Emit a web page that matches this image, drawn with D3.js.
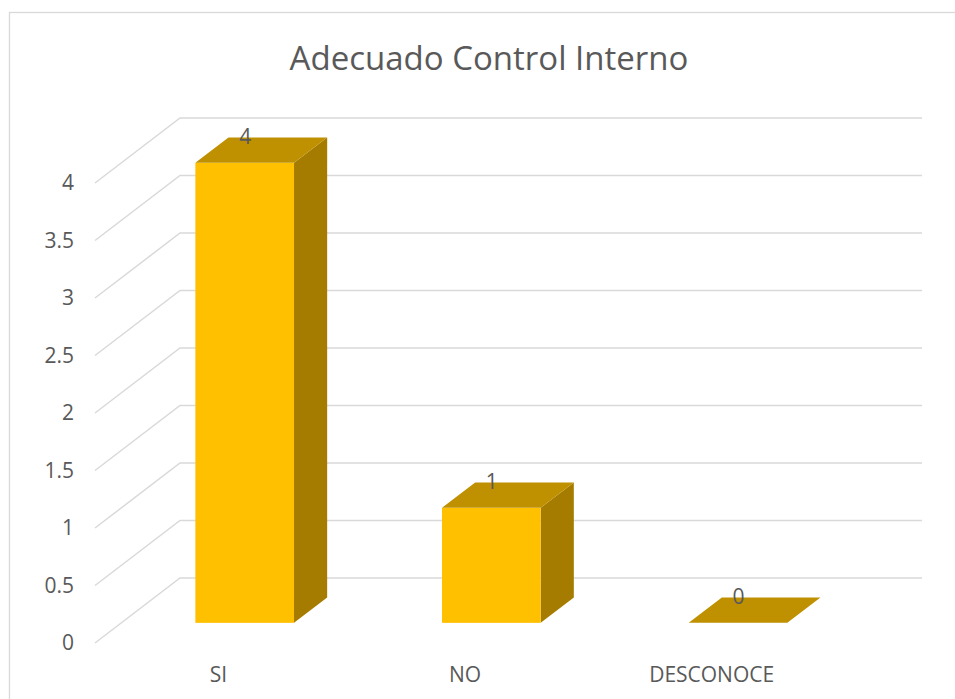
<!DOCTYPE html>
<html>
<head>
<meta charset="utf-8">
<script src="https://cdn.jsdelivr.net/npm/d3@7"></script>
<style>
  html, body { margin: 0; padding: 0; background: #fff; }
  svg { display: block; }
  text { font-family: "Open Sans", "Liberation Sans", sans-serif; fill: #595959; }
</style>
</head>
<body>
<svg id="chart" width="955" height="699"></svg>
<script>
const title = "Adecuado Control Interno";
const categories = ["SI", "NO", "DESCONOCE"];
const values = [4, 1, 0];
const yTicks = [0, 0.5, 1, 1.5, 2, 2.5, 3, 3.5, 4];
const yTickLabels = ["0", "0.5", "1", "1.5", "2", "2.5", "3", "3.5", "4"];

const svg = d3.select("#chart");

// chart border
svg.append("rect")
  .attr("x", 9.5).attr("y", 12.5)
  .attr("width", 960).attr("height", 700)
  .attr("fill", "#fff").attr("stroke", "#D9D9D9").attr("stroke-width", 1.3);

// scales (front plane)
const y = d3.scaleLinear().domain([0, 4]).range([643, 183]);
const x = d3.scaleBand().domain(categories).range([95, 835]).padding(0);
const depthDX = 85, depthDY = -65;
const barFront = 0.31, barBack = 0.70;
const rightEnd = 922;

// gridlines (side wall diagonal + back wall horizontal)
const grid = svg.append("g");
yTicks.forEach(v => {
  const yf = y(v);
  grid.append("path")
    .attr("d", `M95,${yf} L${95 + depthDX},${yf + depthDY} L${rightEnd},${yf + depthDY}`)
    .attr("fill", "none").attr("stroke", "#D9D9D9").attr("stroke-width", 1.5);
});

// y axis labels
svg.append("g").selectAll("text").data(yTicks).join("text")
  .attr("x", 74).attr("y", d => y(d))
  .attr("dy", "0.35em")
  .attr("text-anchor", "end")
  .attr("font-size", 21)
  .text((d, i) => yTickLabels[i]);

// bars
const barG = svg.append("g");
categories.forEach((c, i) => {
  const v = values[i];
  const step = x.step();
  const cx = x(c) + step / 2;
  const w = step * 0.4;
  const ox1 = depthDX * barFront, oy1 = depthDY * barFront;
  const ox2 = depthDX * barBack, oy2 = depthDY * barBack;
  const x0 = cx - w / 2 + ox1, x1 = cx + w / 2 + ox1;
  const yb = y(0) + oy1, yt = y(v) + oy1;
  const dx = ox2 - ox1, dy = oy2 - oy1;
  if (v > 0) {
    barG.append("path")
      .attr("d", `M${x1},${yt} L${x1 + dx},${yt + dy} L${x1 + dx},${yb + dy} L${x1},${yb} Z`)
      .attr("fill", "#A67C00");
    barG.append("rect")
      .attr("x", x0).attr("y", yt).attr("width", x1 - x0).attr("height", yb - yt)
      .attr("fill", "#FFC000");
  }
  barG.append("path")
    .attr("d", `M${x0},${yt} L${x0 + dx},${yt + dy} L${x1 + dx},${yt + dy} L${x1},${yt} Z`)
    .attr("fill", "#BF9000");
  barG.append("text")
    .attr("x", cx + ox1 + 0.5).attr("y", yt + dy)
    .attr("dy", "0.3em")
    .attr("text-anchor", "middle")
    .attr("font-size", 21)
    .text(v);
});

// category labels
svg.append("g").selectAll("text").data(categories).join("text")
  .attr("x", d => x(d) + x.step() / 2)
  .attr("y", 675)
  .attr("dy", "0.35em")
  .attr("text-anchor", "middle")
  .attr("font-size", 21)
  .text(d => d);

// title
svg.append("text")
  .attr("x", 489).attr("y", 58)
  .attr("dy", "0.35em")
  .attr("text-anchor", "middle")
  .attr("font-size", 33)
  .text(title);
</script>
</body>
</html>
